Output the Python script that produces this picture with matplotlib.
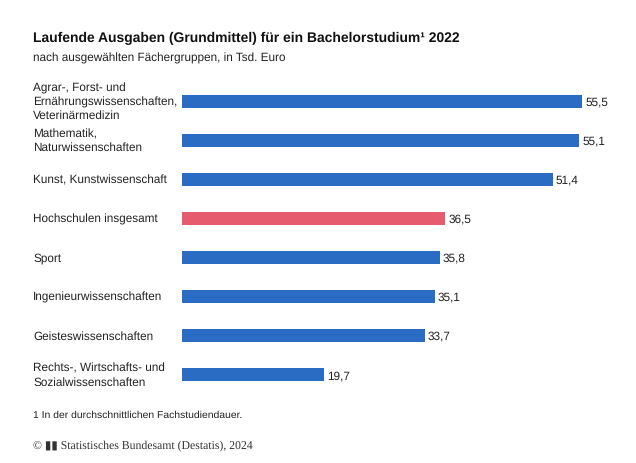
import matplotlib
matplotlib.use("Agg")
import matplotlib.pyplot as plt

plt.rcParams["font.family"] = ["Liberation Sans", "DejaVu Sans"]
plt.rcParams["text.hinting"] = "no_hinting"

categories = [
    "Agrar-, Forst- und\nErnährungswissenschaften,\nVeterinärmedizin",
    "Mathematik,\nNaturwissenschaften",
    "Kunst, Kunstwissenschaft",
    "Hochschulen insgesamt",
    "Sport",
    "Ingenieurwissenschaften",
    "Geisteswissenschaften",
    "Rechts-, Wirtschafts- und\nSozialwissenschaften",
]
values = [55.5, 55.1, 51.4, 36.5, 35.8, 35.1, 33.7, 19.7]
highlight = "Hochschulen insgesamt"

BLUE = "#2a6cc4"
RED = "#e65c6e"

W, H = 636, 464
fig = plt.figure(figsize=(W / 100, H / 100), dpi=100)
ax = fig.add_axes([182 / W, (H - 395.5) / H, 432.6 / W, 313 / H])

ys = list(range(len(values)))
colors = [RED if c == highlight else BLUE for c in categories]
ax.barh(ys, values, height=0.33, color=colors)
for y, v in zip(ys, values):
    ax.text(v + 0.4, y, f"{v:.1f}".replace(".", ","), va="center", ha="left",
            fontsize=8.5, color="#222222")
ax.set_ylim(len(values) - 0.5, -0.5)
ax.set_xlim(0, 60)
ax.axis("off")

for y, c in zip(ys, categories):
    fy = (H - (102 + 39.1 * y)) / H
    fig.text(33 / W, fy, c, ha="left", va="center", fontsize=8.5,
             color="#222222", linespacing=1.3)

fig.text(33 / W, (H - 38) / H, "Laufende Ausgaben (Grundmittel) für ein Bachelorstudium¹ 2022",
         fontsize=10, fontweight="bold", va="center", color="#111111")
fig.text(33 / W, (H - 58) / H, "nach ausgewählten Fächergruppen, in Tsd. Euro",
         fontsize=8.5, va="center", color="#222222")
fig.text(33 / W, (H - 415) / H, "1 In der durchschnittlichen Fachstudiendauer.",
         fontsize=7.5, va="center", color="#222222")
fig.text(33 / W, (H - 446) / H, "© ▮▮ Statistisches Bundesamt (Destatis), 2024",
         fontsize=8.5, va="center", family=["Liberation Serif", "DejaVu Serif"],
         color="#333333")

fig.savefig("out.png", dpi=100)
